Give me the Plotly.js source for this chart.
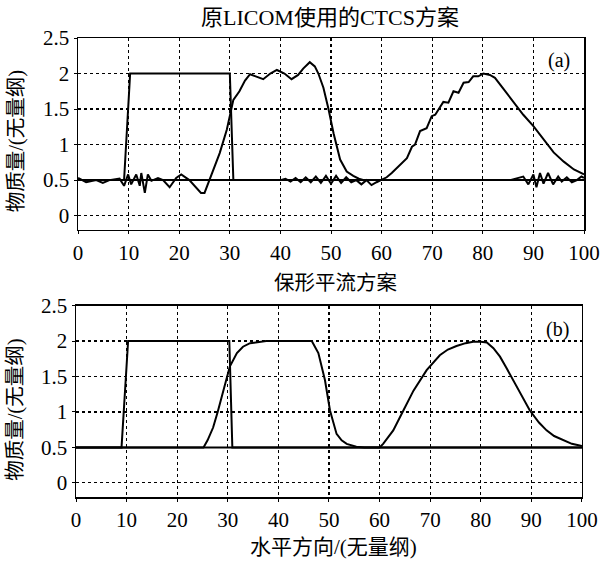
<!DOCTYPE html>
<html>
<head>
<meta charset="utf-8">
<script src="https://cdn.plot.ly/plotly-3.0.1.min.js"></script>
<style>html,body{margin:0;padding:0;background:#fff;}</style>
</head>
<body>
<div id="chart" style="width:601px;height:561px;"></div>
<script>
// ---- Panel (a): original LICOM CTCS scheme ----
const xA0 = [0, 9.1, 10.3, 30.0, 30.7, 100];
const yA0 = [0.5, 0.5, 2, 2, 0.5, 0.5];

const xA1 = [0, 0.9, 1.6, 3.6, 4.9, 6.2, 8.2, 9.1, 9.9, 10.5, 11.5, 12.2, 12.5, 13.2, 13.8, 14.5, 15.8, 16.8, 18.1, 19.4, 20.4, 22.0, 23.0, 24.3, 25.0, 26.0, 27.0, 28.0, 29.4, 30.7, 31.9, 33.0, 34.0, 35.0, 36.6, 38.0, 39.3, 40.8, 42.2, 43.5, 44.5, 45.8, 46.8, 47.5, 48.5, 49.5, 50.5, 51.8, 53.1, 54.4, 55.5, 56.5, 60, 70, 80, 85.4, 88.0, 89.0, 90.0, 90.6, 91.3, 92.0, 92.9, 93.9, 94.9, 95.6, 96.6, 97.6, 98.6, 99.5, 100];
const yA1 = [0.53, 0.5, 0.47, 0.5, 0.46, 0.5, 0.52, 0.42, 0.58, 0.44, 0.58, 0.42, 0.6, 0.32, 0.58, 0.49, 0.53, 0.5, 0.4, 0.53, 0.58, 0.5, 0.42, 0.32, 0.32, 0.5, 0.7, 0.88, 1.21, 1.63, 1.75, 1.9, 1.99, 1.96, 1.92, 2.0, 2.05, 2.0, 1.92, 1.98, 2.07, 2.16, 2.1, 2.0, 1.8, 1.5, 1.16, 0.79, 0.62, 0.56, 0.52, 0.5, 0.5, 0.5, 0.5, 0.5, 0.55, 0.44, 0.58, 0.4, 0.6, 0.45, 0.6, 0.44, 0.55, 0.48, 0.54, 0.47, 0.5, 0.55, 0.53];

const xA2 = [0, 40, 41, 42, 43, 44, 45, 46, 47, 48, 49, 50, 51, 52, 53, 54, 55, 56, 57, 58, 59, 60, 61, 62, 63.3, 65.0, 66.0, 66.6, 67.6, 68.9, 69.9, 70.6, 72.2, 73.2, 74.2, 75.2, 76.2, 77.2, 78.1, 79.1, 80.1, 81.4, 82.4, 84.7, 86.5, 88.0, 90.0, 92.0, 94.0, 96.0, 98.0, 100];
const yA2 = [0.5, 0.5, 0.52, 0.48, 0.53, 0.47, 0.54, 0.47, 0.55, 0.46, 0.56, 0.45, 0.56, 0.46, 0.54, 0.47, 0.5, 0.44, 0.5, 0.43, 0.47, 0.5, 0.54, 0.6, 0.69, 0.81, 0.97, 1.0, 1.19, 1.23, 1.4, 1.42, 1.6, 1.59, 1.75, 1.73, 1.87, 1.88, 1.96, 1.96, 2.0, 1.98, 1.94, 1.73, 1.55, 1.42, 1.26, 1.07, 0.89, 0.76, 0.65, 0.58];

// ---- Panel (b): shape-preserving advection scheme ----
const xB0 = [0, 9.0, 10.3, 30.3, 30.9, 100];
const yB0 = [0.5, 0.5, 2, 2, 0.5, 0.5];

const xB1 = [0, 25.2, 26, 27.1, 28, 28.8, 29.6, 30.4, 31.8, 33, 34.4, 36, 37.6, 46.6, 47.9, 49.2, 50.2, 51.5, 52.5, 53.5, 55.4, 57, 100];
const yB1 = [0.5, 0.5, 0.6, 0.78, 1.0, 1.21, 1.43, 1.64, 1.83, 1.92, 1.97, 1.99, 2.0, 2.0, 1.83, 1.45, 1.02, 0.69, 0.6, 0.55, 0.51, 0.5, 0.5];

const xB2 = [0, 60, 60.7, 61.5, 62.7, 64.7, 66.7, 69.3, 71.9, 73.5, 75.2, 77, 78.5, 80, 81.2, 82.5, 83.8, 85, 86.4, 88, 89.7, 91.5, 93, 94.5, 96.3, 98, 100];
const yB2 = [0.5, 0.5, 0.55, 0.62, 0.74, 1.02, 1.3, 1.59, 1.8, 1.88, 1.93, 1.97, 1.99, 1.99, 1.98, 1.9, 1.78, 1.63, 1.45, 1.24, 1.02, 0.85, 0.74, 0.66, 0.6, 0.55, 0.52];

const titleA = "原LICOM使用的CTCS方案";
const titleB = "保形平流方案";
const yTitle = "物质量/(无量纲)";
const xTitle = "水平方向/(无量纲)";

const FONT = "Liberation Serif, Noto Sans CJK SC, serif";
const line = {color: "#000", width: 2};

function tr(x, y, xa, ya) {
  return {x: x, y: y, xaxis: xa, yaxis: ya, type: "scatter", mode: "lines",
          line: line, showlegend: false, hoverinfo: "skip"};
}

const data = [
  tr(xA0, yA0, "x", "y"), tr(xA1, yA1, "x", "y"), tr(xA2, yA2, "x", "y"),
  tr(xB0, yB0, "x2", "y2"), tr(xB1, yB1, "x2", "y2"), tr(xB2, yB2, "x2", "y2")
];

function xax(domain, anchor) {
  return {domain: domain, anchor: anchor, range: [0, 100], dtick: 10, tick0: 0,
    showline: true, mirror: true, linecolor: "#000", linewidth: 1.5,
    showgrid: true, gridcolor: "#000", griddash: "dot", gridwidth: 1.2,
    zeroline: false, ticks: "outside", ticklen: 3, tickcolor: "#000",
    tickfont: {family: FONT, size: 21, color: "#000"}};
}
function yax(domain, anchor) {
  return {domain: domain, anchor: anchor, range: [-0.2, 2.5], dtick: 0.5, tick0: 0,
    showline: true, mirror: true, linecolor: "#000", linewidth: 1.5,
    showgrid: true, gridcolor: "#000", griddash: "dot", gridwidth: 1.2,
    zeroline: false, ticks: "outside", ticklen: 3, tickcolor: "#000",
    tickfont: {family: FONT, size: 21, color: "#000"}};
}

const layout = {
  width: 601, height: 561,
  margin: {l: 76, r: 17, t: 38, b: 64},
  paper_bgcolor: "#fff", plot_bgcolor: "#fff",
  xaxis: xax([0.004, 1], "y"),
  yaxis: yax([0.582, 1], "x"),
  xaxis2: xax([0, 0.996], "y2"),
  yaxis2: yax([0, 0.417], "x2"),
  annotations: [
    {text: titleA, xref: "paper", yref: "paper", x: 0.5, y: 1.044, showarrow: false,
     xanchor: "center", yanchor: "middle", font: {family: FONT, size: 22, color: "#000"}},
    {text: titleB, xref: "paper", yref: "paper", x: 0.51, y: 0.466, showarrow: false,
     xanchor: "center", yanchor: "middle", font: {family: FONT, size: 20.5, color: "#000"}},
    {text: xTitle, xref: "paper", yref: "paper", x: 0.506, y: -0.109, showarrow: false,
     xanchor: "center", yanchor: "middle", font: {family: FONT, size: 21, color: "#000"}},
    {text: yTitle, xref: "paper", yref: "paper", x: -0.118, y: 0.775, showarrow: false,
     textangle: -90, xanchor: "center", yanchor: "middle", font: {family: FONT, size: 20.5, color: "#000"}},
    {text: yTitle, xref: "paper", yref: "paper", x: -0.118, y: 0.19, showarrow: false,
     textangle: -90, xanchor: "center", yanchor: "middle", font: {family: FONT, size: 20.5, color: "#000"}},
    {text: "(a)", xref: "paper", yref: "paper", x: 0.951, y: 0.95, showarrow: false,
     xanchor: "center", yanchor: "middle", font: {family: FONT, size: 20, color: "#000"}},
    {text: "(b)", xref: "paper", yref: "paper", x: 0.947, y: 0.364, showarrow: false,
     xanchor: "center", yanchor: "middle", font: {family: FONT, size: 20, color: "#000"}}
  ]
};

Plotly.newPlot("chart", data, layout, {displayModeBar: false, staticPlot: true});
</script>
</body>
</html>
